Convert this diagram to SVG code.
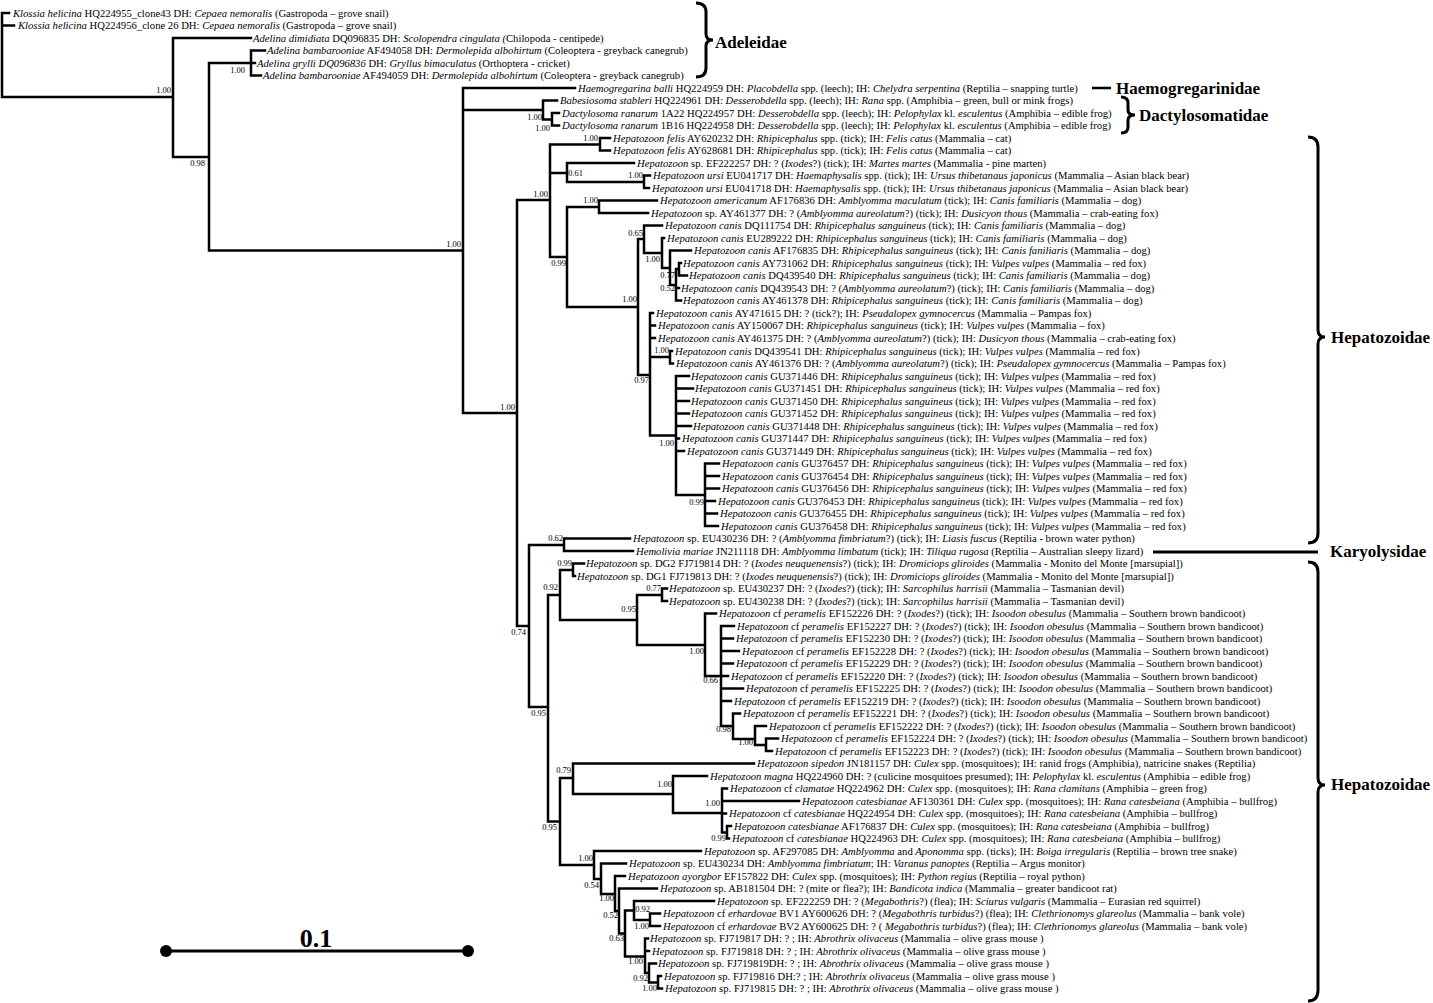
<svg xmlns="http://www.w3.org/2000/svg" width="1433" height="1003" viewBox="0 0 1433 1003">
<style>
.t{font-family:"Liberation Serif","Times New Roman",serif;font-size:10.65px;fill:#000}
.i{font-style:italic}
.s{font-family:"Liberation Serif","Times New Roman",serif;font-size:8.5px;text-anchor:end;fill:#000}
.f{font-family:"Liberation Serif","Times New Roman",serif;font-size:17px;font-weight:bold;fill:#000}
.br{fill:none;stroke:#000;stroke-width:3}
#connectors path{fill:none;stroke:#000;stroke-width:2.5;stroke-linecap:square}
</style>
<rect width="1433" height="1003" fill="#fff"/>
<g id="connectors">
<path d="M2,13V97M2,13H9M2,25.5H14M2,97H173
M173,38V157M173,38H251M173,157H209
M209,63V250.5M209,63H251M209,250.5H463
M251,50.5V75.5M251,50.5H265M251,63H255M251,75.5H261
M463,88V413M463,88H575M463,110H543M463,413H517
M543,100.5V119.5M543,100.5H557M543,119.5H552
M552,113V125.5M552,113H559M552,125.5H559
M517,200V626M517,200H550M517,626H529
M550,144.5V257M550,144.5H600M550,173H567M550,257H567
M600,138V150.5M600,138H610M600,150.5H610
M567,163V182M567,163H634M567,182H644
M644,175.5V188M644,175.5H650M644,188H649
M567,207V307M567,207H599M567,307H638
M599,200.5V213M599,200.5H657M599,213H648
M638,239V375M638,239H644M638,375H650
M644,225.5V253M644,225.5H662M644,253H662
M662,238V268M662,238H664M662,268H670
M670,250.5V285M670,250.5H691M670,285H676
M676,269V300.5M676,269H679M676,288H679M676,300.5H681
M679,263V275.5M679,263H681M679,275.5H687
M650,313V435.5M650,313H653M650,325.5H655M650,338H655M650,357H670M650,435.5H676
M670,351V363.5M670,351H672M670,363.5H673
M676,376V495M676,376H689M676,388.5H693M676,401H689M676,413.5H689M676,426H691M676,438.5H679M676,451H684M676,495H705
M705,463.5V526M705,463.5H719M705,476H719M705,488.5H719M705,501H715M705,513.5H717M705,526H718
M529,545V707M529,545H564M529,707H548
M564,538.5V551M564,538.5H630M564,551H633
M548,595V821.5M548,595H560M548,821.5H560
M560,570V620M560,570H573M560,620H637
M573,563.5V576M573,563.5H584M573,576H575
M637,595V645M637,595H662M637,645H705
M662,588.5V601M662,588.5H667M662,601H667
M705,613.5V676M705,613.5H716M705,676H721
M721,626V726M721,626H734M721,638.5H733M721,651H739M721,663.5H733M721,676H728M721,688.5H743M721,701H731M721,726H733
M733,713.5V739M733,713.5H740M733,739H755
M755,726V745M755,726H766M755,745H766
M766,738.5V751M766,738.5H778M766,751H772
M560,778V865M560,778H573M560,865H594
M573,763.5V794M573,763.5H754M573,794H673
M673,776V813M673,776H707M673,813H722
M722,788.5V832.5M722,788.5H727M722,801H799M722,813.5H726M722,832.5H727
M727,826V838.5M727,826H731M727,838.5H729
M594,851V879M594,851H701M594,879H601
M601,863.5V894M601,863.5H626M601,894H615
M615,876V911M615,876H625M615,911H619
M619,888.5V933.5M619,888.5H657M619,933.5H625
M625,910.5V956.5M625,910.5H634M625,956.5H645
M634,901V920M634,901H714M634,920H650
M650,913.5V926M650,913.5H660M650,926H660
M645,938.5V973M645,938.5H648M645,951H649M645,973H649
M649,963.5V982.5M649,963.5H656M649,982.5H658
M658,976V988.5M658,976H661M658,988.5H662"/>
</g>
<g id="support">
<text class="s" x="171" y="93">1.00</text>
<text class="s" x="205" y="166">0.98</text>
<text class="s" x="245" y="73">1.00</text>
<text class="s" x="461" y="247">1.00</text>
<text class="s" x="542" y="120">1.00</text>
<text class="s" x="550" y="131">1.00</text>
<text class="s" x="598" y="141">1.00</text>
<text class="s" x="583" y="176">0.61</text>
<text class="s" x="643" y="178">1.00</text>
<text class="s" x="548" y="197">1.00</text>
<text class="s" x="598" y="203">1.00</text>
<text class="s" x="566" y="266">0.99</text>
<text class="s" x="643" y="236">0.65</text>
<text class="s" x="660" y="262">1.00</text>
<text class="s" x="675" y="278">0.77</text>
<text class="s" x="675" y="291">0.52</text>
<text class="s" x="637" y="302">1.00</text>
<text class="s" x="669" y="353">1.00</text>
<text class="s" x="649" y="383">0.97</text>
<text class="s" x="674" y="446">1.00</text>
<text class="s" x="704" y="505">0.99</text>
<text class="s" x="515" y="410">1.00</text>
<text class="s" x="526" y="635">0.74</text>
<text class="s" x="563" y="541">0.62</text>
<text class="s" x="572" y="566">0.99</text>
<text class="s" x="558" y="590">0.92</text>
<text class="s" x="636" y="612">0.95</text>
<text class="s" x="661" y="591">0.77</text>
<text class="s" x="704" y="654">1.00</text>
<text class="s" x="718" y="683">0.66</text>
<text class="s" x="731" y="732">0.98</text>
<text class="s" x="753" y="745">1.00</text>
<text class="s" x="546" y="716">0.95</text>
<text class="s" x="571" y="773">0.79</text>
<text class="s" x="672" y="787">1.00</text>
<text class="s" x="720" y="806">1.00</text>
<text class="s" x="726" y="841">0.99</text>
<text class="s" x="557" y="830">0.95</text>
<text class="s" x="593" y="861">1.00</text>
<text class="s" x="599" y="888">0.54</text>
<text class="s" x="614" y="901">1.00</text>
<text class="s" x="618" y="918">0.52</text>
<text class="s" x="650" y="912">0.92</text>
<text class="s" x="649" y="929">1.00</text>
<text class="s" x="624" y="941">0.63</text>
<text class="s" x="643" y="964">1.00</text>
<text class="s" x="648" y="981">0.92</text>
<text class="s" x="657" y="991">1.00</text>
</g>
<g id="leaves">
<g id="n01"><text class="t" x="13" y="16.5"><tspan class="i">Klossia helicina</tspan> HQ224955_clone43 DH: <tspan class="i">Cepaea nemoralis</tspan> (Gastropoda – grove snail)</text></g>
<g id="n02"><text class="t" x="18" y="29"><tspan class="i">Klossia helicina</tspan> HQ224956_clone 26 DH: <tspan class="i">Cepaea nemoralis</tspan> (Gastropoda – grove snail)</text></g>
<g id="n03"><text class="t" x="253" y="41.5"><tspan class="i">Adelina dimidiata</tspan> DQ096835 DH: <tspan class="i">Scolopendra cingulata (</tspan>Chilopoda - centipede)</text></g>
<g id="n04"><text class="t" x="267" y="54"><tspan class="i">Adelina bambarooniae</tspan> AF494058 DH: <tspan class="i">Dermolepida albohirtum</tspan> (Coleoptera - greyback canegrub)</text></g>
<g id="n05"><text class="t" x="257" y="66.5"><tspan class="i">Adelina grylli DQ096836</tspan> DH: <tspan class="i">Gryllus bimaculatus</tspan> (Orthoptera - cricket)</text></g>
<g id="n06"><text class="t" x="263" y="79"><tspan class="i">Adelina bambarooniae</tspan> AF494059 DH: <tspan class="i">Dermolepida albohirtum</tspan> (Coleoptera - greyback canegrub)</text></g>
<g id="n07"><text class="t" x="578" y="91.5"><tspan class="i">Haemogregarina balli</tspan> HQ224959 DH: <tspan class="i">Placobdella</tspan> spp. (leech); IH: <tspan class="i">Chelydra serpentina</tspan> (Reptilia – snapping turtle)</text></g>
<g id="n08"><text class="t" x="560" y="104"><tspan class="i">Babesiosoma stableri</tspan> HQ224961 DH: <tspan class="i">Desserobdella</tspan> spp. (leech); IH: <tspan class="i">Rana</tspan> spp. (Amphibia – green, bull or mink frogs)</text></g>
<g id="n09"><text class="t" x="562" y="116.5"><tspan class="i">Dactylosoma ranarum</tspan> 1A22 HQ224957 DH: <tspan class="i">Desserobdella</tspan> spp. (leech); IH: <tspan class="i">Pelophylax</tspan> kl. <tspan class="i">esculentus</tspan> (Amphibia – edible frog)</text></g>
<g id="n10"><text class="t" x="562" y="129"><tspan class="i">Dactylosoma ranarum</tspan> 1B16 HQ224958 DH: <tspan class="i">Desserobdella</tspan> spp. (leech); IH: <tspan class="i">Pelophylax</tspan> kl. <tspan class="i">esculentus</tspan> (Amphibia – edible frog)</text></g>
<g id="n11"><text class="t" x="613" y="141.5"><tspan class="i">Hepatozoon felis</tspan> AY620232 DH: <tspan class="i">Rhipicephalus</tspan> spp. (tick); IH: <tspan class="i">Felis catus</tspan> (Mammalia – cat)</text></g>
<g id="n12"><text class="t" x="613" y="154"><tspan class="i">Hepatozoon felis</tspan> AY628681 DH: <tspan class="i">Rhipicephalus</tspan> spp. (tick); IH: <tspan class="i">Felis catus</tspan> (Mammalia – cat)</text></g>
<g id="n13"><text class="t" x="637" y="166.5"><tspan class="i">Hepatozoon</tspan> sp. EF222257 DH: ? (<tspan class="i">Ixodes</tspan>?) (tick); IH: <tspan class="i">Martes martes</tspan> (Mammalia - pine marten)</text></g>
<g id="n14"><text class="t" x="653" y="179"><tspan class="i">Hepatozoon ursi</tspan> EU041717 DH: <tspan class="i">Haemaphysalis</tspan> spp. (tick); IH: <tspan class="i">Ursus thibetanaus japonicus</tspan> (Mammalia – Asian black bear)</text></g>
<g id="n15"><text class="t" x="652" y="191.5"><tspan class="i">Hepatozoon ursi</tspan> EU041718 DH: <tspan class="i">Haemaphysalis</tspan> spp. (tick); IH: <tspan class="i">Ursus thibetanaus japonicus</tspan> (Mammalia – Asian black bear)</text></g>
<g id="n16"><text class="t" x="660" y="204"><tspan class="i">Hepatozoon americanum</tspan> AF176836 DH: <tspan class="i">Amblyomma maculatum</tspan> (tick); IH: <tspan class="i">Canis familiaris</tspan> (Mammalia – dog)</text></g>
<g id="n17"><text class="t" x="651" y="216.5"><tspan class="i">Hepatozoon</tspan> sp. AY461377 DH: ? (<tspan class="i">Amblyomma aureolatum</tspan>?) (tick); IH: <tspan class="i">Dusicyon thous</tspan> (Mammalia – crab-eating fox)</text></g>
<g id="n18"><text class="t" x="665" y="229"><tspan class="i">Hepatozoon canis</tspan> DQ111754 DH: <tspan class="i">Rhipicephalus sanguineus</tspan> (tick); IH: <tspan class="i">Canis familiaris</tspan> (Mammalia – dog)</text></g>
<g id="n19"><text class="t" x="667" y="241.5"><tspan class="i">Hepatozoon canis</tspan> EU289222 DH: <tspan class="i">Rhipicephalus sanguineus</tspan> (tick); IH: <tspan class="i">Canis familiaris</tspan> (Mammalia – dog)</text></g>
<g id="n20"><text class="t" x="694" y="254"><tspan class="i">Hepatozoon canis</tspan> AF176835 DH: <tspan class="i">Rhipicephalus sanguineus</tspan> (tick); IH: <tspan class="i">Canis faniliaris</tspan> (Mammalia – dog)</text></g>
<g id="n21"><text class="t" x="683" y="266.5"><tspan class="i">Hepatozoon canis</tspan> AY731062 DH: <tspan class="i">Rhipicephalus sanguineus</tspan> (tick); IH: <tspan class="i">Vulpes vulpes</tspan> (Mammalia – red fox)</text></g>
<g id="n22"><text class="t" x="689" y="279"><tspan class="i">Hepatozoon canis</tspan> DQ439540 DH: <tspan class="i">Rhipicephalus sanguineus</tspan> (tick); IH: <tspan class="i">Canis familiaris</tspan> (Mammalia – dog)</text></g>
<g id="n23"><text class="t" x="681" y="291.5"><tspan class="i">Hepatozoon canis</tspan> DQ439543 DH: ? (<tspan class="i">Amblyomma aureolatum</tspan>?) (tick); IH: <tspan class="i">Canis familiaris</tspan> (Mammalia – dog)</text></g>
<g id="n24"><text class="t" x="683" y="304"><tspan class="i">Hepatozoon canis</tspan> AY461378 DH: <tspan class="i">Rhipicephalus sanguineus</tspan> (tick); IH: <tspan class="i">Canis familiaris</tspan> (Mammalia – dog)</text></g>
<g id="n25"><text class="t" x="656" y="316.5"><tspan class="i">Hepatozoon canis</tspan> AY471615 DH: ? (tick?); IH: <tspan class="i">Pseudalopex gymnocercus</tspan> (Mammalia – Pampas fox)</text></g>
<g id="n26"><text class="t" x="658" y="329"><tspan class="i">Hepatozoon canis</tspan> AY150067 DH: <tspan class="i">Rhipicephalus sanguineus</tspan> (tick); IH: <tspan class="i">Vulpes vulpes</tspan> (Mammalia – fox)</text></g>
<g id="n27"><text class="t" x="658" y="341.5"><tspan class="i">Hepatozoon canis</tspan> AY461375 DH: ? (<tspan class="i">Amblyomma aureolatum</tspan>?) (tick); IH: <tspan class="i">Dusicyon thous</tspan> (Mammalia – crab-eating fox)</text></g>
<g id="n28"><text class="t" x="675" y="354.5"><tspan class="i">Hepatozoon canis</tspan> DQ439541 DH: <tspan class="i">Rhipicephalus sanguineus</tspan> (tick); IH: <tspan class="i">Vulpes vulpes</tspan> (Mammalia – red fox)</text></g>
<g id="n29"><text class="t" x="676" y="367"><tspan class="i">Hepatozoon canis</tspan> AY461376 DH: ? (<tspan class="i">Amblyomma aureolatum</tspan>?) (tick); IH: <tspan class="i">Pseudalopex gymnocercus</tspan> (Mammalia – Pampas fox)</text></g>
<g id="n30"><text class="t" x="691" y="379.5"><tspan class="i">Hepatozoon canis</tspan> GU371446 DH: <tspan class="i">Rhipicephalus sanguineus</tspan> (tick); IH: <tspan class="i">Vulpes vulpes</tspan> (Mammalia – red fox)</text></g>
<g id="n31"><text class="t" x="695" y="392"><tspan class="i">Hepatozoon canis</tspan> GU371451 DH: <tspan class="i">Rhipicephalus sanguineus</tspan> (tick); IH: <tspan class="i">Vulpes vulpes</tspan> (Mammalia – red fox)</text></g>
<g id="n32"><text class="t" x="691" y="404.5"><tspan class="i">Hepatozoon canis</tspan> GU371450 DH: <tspan class="i">Rhipicephalus sanguineus</tspan> (tick); IH: <tspan class="i">Vulpes vulpes</tspan> (Mammalia – red fox)</text></g>
<g id="n33"><text class="t" x="691" y="417"><tspan class="i">Hepatozoon canis</tspan> GU371452 DH: <tspan class="i">Rhipicephalus sanguineus</tspan> (tick); IH: <tspan class="i">Vulpes vulpes</tspan> (Mammalia – red fox)</text></g>
<g id="n34"><text class="t" x="693" y="429.5"><tspan class="i">Hepatozoon canis</tspan> GU371448 DH: <tspan class="i">Rhipicephalus sanguineus</tspan> (tick); IH: <tspan class="i">Vulpes vulpes</tspan> (Mammalia – red fox)</text></g>
<g id="n35"><text class="t" x="682" y="442"><tspan class="i">Hepatozoon canis</tspan> GU371447 DH: <tspan class="i">Rhipicephalus sanguineus</tspan> (tick); IH: <tspan class="i">Vulpes vulpes</tspan> (Mammalia – red fox)</text></g>
<g id="n36"><text class="t" x="687" y="454.5"><tspan class="i">Hepatozoon canis</tspan> GU371449 DH: <tspan class="i">Rhipicephalus sanguineus</tspan> (tick); IH: <tspan class="i">Vulpes vulpes</tspan> (Mammalia – red fox)</text></g>
<g id="n37"><text class="t" x="722" y="467"><tspan class="i">Hepatozoon canis</tspan> GU376457 DH: <tspan class="i">Rhipicephalus sanguineus</tspan> (tick); IH: <tspan class="i">Vulpes vulpes</tspan> (Mammalia – red fox)</text></g>
<g id="n38"><text class="t" x="722" y="479.5"><tspan class="i">Hepatozoon canis</tspan> GU376454 DH: <tspan class="i">Rhipicephalus sanguineus</tspan> (tick); IH: <tspan class="i">Vulpes vulpes</tspan> (Mammalia – red fox)</text></g>
<g id="n39"><text class="t" x="722" y="492"><tspan class="i">Hepatozoon canis</tspan> GU376456 DH: <tspan class="i">Rhipicephalus sanguineus</tspan> (tick); IH: <tspan class="i">Vulpes vulpes</tspan> (Mammalia – red fox)</text></g>
<g id="n40"><text class="t" x="718" y="504.5"><tspan class="i">Hepatozoon canis</tspan> GU376453 DH: <tspan class="i">Rhipicephalus sanguineus</tspan> (tick); IH: <tspan class="i">Vulpes vulpes</tspan> (Mammalia – red fox)</text></g>
<g id="n41"><text class="t" x="720" y="517"><tspan class="i">Hepatozoon canis</tspan> GU376455 DH: <tspan class="i">Rhipicephalus sanguineus</tspan> (tick); IH: <tspan class="i">Vulpes vulpes</tspan> (Mammalia – red fox)</text></g>
<g id="n42"><text class="t" x="721" y="529.5"><tspan class="i">Hepatozoon canis</tspan> GU376458 DH: <tspan class="i">Rhipicephalus sanguineus</tspan> (tick); IH: <tspan class="i">Vulpes vulpes</tspan> (Mammalia – red fox)</text></g>
<g id="n43"><text class="t" x="633" y="542"><tspan class="i">Hepatozoon</tspan> sp. EU430236 DH: ? (<tspan class="i">Amblyomma fimbriatum</tspan>?) (tick); IH: <tspan class="i">Liasis fuscus</tspan> (Reptilia - brown water python)</text></g>
<g id="n44"><text class="t" x="636" y="554.5"><tspan class="i">Hemolivia mariae</tspan> JN211118 DH: <tspan class="i">Amblyomma limbatum</tspan> (tick); IH: <tspan class="i">Tiliqua rugosa</tspan> (Reptilia – Australian sleepy lizard)</text></g>
<g id="n45"><text class="t" x="586" y="567"><tspan class="i">Hepatozoon</tspan> sp. DG2 FJ719814 DH: ? (<tspan class="i">Ixodes neuquenensis</tspan>?) (tick); IH: <tspan class="i">Dromiciops gliroides</tspan> (Mammalia - Monito del Monte [marsupial])</text></g>
<g id="n46"><text class="t" x="577" y="579.5"><tspan class="i">Hepatozoon</tspan> sp. DG1 FJ719813 DH: ? (<tspan class="i">Ixodes neuquenensis</tspan>?) (tick); IH: <tspan class="i">Dromiciops gliroides</tspan> (Mammalia - Monito del Monte [marsupial])</text></g>
<g id="n47"><text class="t" x="669" y="592"><tspan class="i">Hepatozoon</tspan> sp. EU430237 DH: ? (<tspan class="i">Ixodes</tspan>?) (tick); IH: <tspan class="i">Sarcophilus harrisii</tspan> (Mammalia – Tasmanian devil)</text></g>
<g id="n48"><text class="t" x="669" y="604.5"><tspan class="i">Hepatozoon</tspan> sp. EU430238 DH: ? (<tspan class="i">Ixodes</tspan>?) (tick); IH: <tspan class="i">Sarcophilus harrisii</tspan> (Mammalia – Tasmanian devil)</text></g>
<g id="n49"><text class="t" x="719" y="617"><tspan class="i">Hepatozoon</tspan> cf <tspan class="i">peramelis</tspan> EF152226 DH: ? (<tspan class="i">Ixodes</tspan>?) (tick); IH: <tspan class="i">Isoodon obesulus</tspan> (Mammalia – Southern brown bandicoot)</text></g>
<g id="n50"><text class="t" x="737" y="629.5"><tspan class="i">Hepatozoon</tspan> cf <tspan class="i">peramelis</tspan> EF152227 DH: ? (<tspan class="i">Ixodes</tspan>?) (tick); IH: <tspan class="i">Isoodon obesulus</tspan> (Mammalia – Southern brown bandicoot)</text></g>
<g id="n51"><text class="t" x="736" y="642"><tspan class="i">Hepatozoon</tspan> cf <tspan class="i">peramelis</tspan> EF152230 DH: ? (<tspan class="i">Ixodes</tspan>?) (tick); IH: <tspan class="i">Isoodon obesulus</tspan> (Mammalia – Southern brown bandicoot)</text></g>
<g id="n52"><text class="t" x="742" y="654.5"><tspan class="i">Hepatozoon</tspan> cf <tspan class="i">peramelis</tspan> EF152228 DH: ? (<tspan class="i">Ixodes</tspan>?) (tick); IH: <tspan class="i">Isoodon obesulus</tspan> (Mammalia – Southern brown bandicoot)</text></g>
<g id="n53"><text class="t" x="736" y="667"><tspan class="i">Hepatozoon</tspan> cf <tspan class="i">peramelis</tspan> EF152229 DH: ? (<tspan class="i">Ixodes</tspan>?) (tick); IH: <tspan class="i">Isoodon obesulus</tspan> (Mammalia – Southern brown bandicoot)</text></g>
<g id="n54"><text class="t" x="731" y="679.5"><tspan class="i">Hepatozoon</tspan> cf <tspan class="i">peramelis</tspan> EF152220 DH: ? (<tspan class="i">Ixodes</tspan>?) (tick); IH: <tspan class="i">Isoodon obesulus</tspan> (Mammalia – Southern brown bandicoot)</text></g>
<g id="n55"><text class="t" x="746" y="692"><tspan class="i">Hepatozoon</tspan> cf <tspan class="i">peramelis</tspan> EF152225 DH: ? (<tspan class="i">Ixodes</tspan>?) (tick); IH: <tspan class="i">Isoodon obesulus</tspan> (Mammalia – Southern brown bandicoot)</text></g>
<g id="n56"><text class="t" x="734" y="704.5"><tspan class="i">Hepatozoon</tspan> cf <tspan class="i">peramelis</tspan> EF152219 DH: ? (<tspan class="i">Ixodes</tspan>?) (tick); IH: <tspan class="i">Isoodon obesulus</tspan> (Mammalia – Southern brown bandicoot)</text></g>
<g id="n57"><text class="t" x="743" y="717"><tspan class="i">Hepatozoon</tspan> cf <tspan class="i">peramelis</tspan> EF152221 DH: ? (<tspan class="i">Ixodes</tspan>?) (tick); IH: <tspan class="i">Isoodon obesulus</tspan> (Mammalia – Southern brown bandicoot)</text></g>
<g id="n58"><text class="t" x="769" y="729.5"><tspan class="i">Hepatozoon</tspan> cf <tspan class="i">peramelis</tspan> EF152222 DH: ? (<tspan class="i">Ixodes</tspan>?) (tick); IH: <tspan class="i">Isoodon obesulus</tspan> (Mammalia – Southern brown bandicoot)</text></g>
<g id="n59"><text class="t" x="781" y="742"><tspan class="i">Hepatozoon</tspan> cf <tspan class="i">peramelis</tspan> EF152224 DH: ? (<tspan class="i">Ixodes</tspan>?) (tick); IH: <tspan class="i">Isoodon obesulus</tspan> (Mammalia – Southern brown bandicoot)</text></g>
<g id="n60"><text class="t" x="775" y="754.5"><tspan class="i">Hepatozoon</tspan> cf <tspan class="i">peramelis</tspan> EF152223 DH: ? (<tspan class="i">Ixodes</tspan>?) (tick); IH: <tspan class="i">Isoodon obesulus</tspan> (Mammalia – Southern brown bandicoot)</text></g>
<g id="n61"><text class="t" x="757" y="767"><tspan class="i">Hepatozoon sipedon</tspan> JN181157 DH: <tspan class="i">Culex</tspan> spp. (mosquitoes); IH: ranid frogs (Amphibia), natricine snakes (Reptilia)</text></g>
<g id="n62"><text class="t" x="710" y="779.5"><tspan class="i">Hepatozoon magna</tspan> HQ224960 DH: ? (culicine mosquitoes presumed); IH: <tspan class="i">Pelophylax</tspan> kl. <tspan class="i">esculentus</tspan> (Amphibia – edible frog)</text></g>
<g id="n63"><text class="t" x="730" y="792"><tspan class="i">Hepatozoon</tspan> cf <tspan class="i">clamatae</tspan> HQ224962 DH: <tspan class="i">Culex</tspan> spp. (mosquitoes); IH: <tspan class="i">Rana clamitans</tspan> (Amphibia – green frog)</text></g>
<g id="n64"><text class="t" x="802" y="804.5"><tspan class="i">Hepatozoon catesbianae</tspan> AF130361 DH: <tspan class="i">Culex</tspan> spp. (mosquitoes); IH: <tspan class="i">Rana catesbeiana</tspan> (Amphibia – bullfrog)</text></g>
<g id="n65"><text class="t" x="729" y="817"><tspan class="i">Hepatozoon</tspan> cf <tspan class="i">catesbianae</tspan> HQ224954 DH: <tspan class="i">Culex</tspan> spp. (mosquitoes); IH: <tspan class="i">Rana catesbeiana</tspan> (Amphibia – bullfrog)</text></g>
<g id="n66"><text class="t" x="734" y="829.5"><tspan class="i">Hepatozoon catesbianae</tspan> AF176837 DH: <tspan class="i">Culex</tspan> spp. (mosquitoes); IH: <tspan class="i">Rana catesbeiana</tspan> (Amphibia – bullfrog)</text></g>
<g id="n67"><text class="t" x="732" y="842"><tspan class="i">Hepatozoon</tspan> cf <tspan class="i">catesbianae</tspan> HQ224963 DH: <tspan class="i">Culex</tspan> spp. (mosquitoes); IH: <tspan class="i">Rana catesbeiana</tspan> (Amphibia – bullfrog)</text></g>
<g id="n68"><text class="t" x="704" y="854.5"><tspan class="i">Hepatozoon</tspan> sp. AF297085 DH: <tspan class="i">Amblyomma</tspan> and <tspan class="i">Aponomma</tspan> spp. (ticks); IH: <tspan class="i">Boiga irregularis</tspan> (Reptilia – brown tree snake)</text></g>
<g id="n69"><text class="t" x="629" y="867"><tspan class="i">Hepatozoon</tspan> sp. EU430234 DH: <tspan class="i">Amblyomma fimbriatum</tspan>; IH: <tspan class="i">Varanus panoptes</tspan> (Reptilia – Argus monitor)</text></g>
<g id="n70"><text class="t" x="628" y="879.5"><tspan class="i">Hepatozoon ayorgbor</tspan> EF157822 DH: <tspan class="i">Culex</tspan> spp. (mosquitoes); IH: <tspan class="i">Python regius</tspan> (Reptilia – royal python)</text></g>
<g id="n71"><text class="t" x="660" y="892"><tspan class="i">Hepatozoon</tspan> sp. AB181504 DH: ? (mite or flea?); IH: <tspan class="i">Bandicota indica</tspan> (Mammalia – greater bandicoot rat)</text></g>
<g id="n72"><text class="t" x="717" y="904.5"><tspan class="i">Hepatozoon</tspan> sp. EF222259 DH: ? (<tspan class="i">Megabothris</tspan>?) (flea); IH: <tspan class="i">Sciurus vulgaris</tspan> (Mammalia – Eurasian red squirrel)</text></g>
<g id="n73"><text class="t" x="663" y="917"><tspan class="i">Hepatozoon</tspan> cf <tspan class="i">erhardovae</tspan> BV1 AY600626 DH: ? (<tspan class="i">Megabothris turbidus</tspan>?) (flea); IH: <tspan class="i">Clethrionomys glareolus</tspan> (Mammalia – bank vole)</text></g>
<g id="n74"><text class="t" x="663" y="929.5"><tspan class="i">Hepatozoon</tspan> cf <tspan class="i">erhardovae</tspan> BV2 AY600625 DH: ? ( <tspan class="i">Megabothris turbidus</tspan>?) (flea); IH: <tspan class="i">Clethrionomys glareolus</tspan> (Mammalia – bank vole)</text></g>
<g id="n75"><text class="t" x="650" y="942"><tspan class="i">Hepatozoon</tspan> sp. FJ719817 DH: ? ; IH: <tspan class="i">Abrothrix olivaceus</tspan> (Mammalia – olive grass mouse )</text></g>
<g id="n76"><text class="t" x="652" y="954.5"><tspan class="i">Hepatozoon</tspan> sp. FJ719818 DH: ? ; IH: <tspan class="i">Abrothrix olivaceus</tspan> (Mammalia – olive grass mouse )</text></g>
<g id="n77"><text class="t" x="658" y="967"><tspan class="i">Hepatozoon</tspan> sp. FJ719819DH: ? ; IH: <tspan class="i">Abrothrix olivaceus</tspan> (Mammalia – olive grass mouse )</text></g>
<g id="n78"><text class="t" x="664" y="979.5"><tspan class="i">Hepatozoon</tspan> sp. FJ719816 DH:? ; IH: <tspan class="i">Abrothrix olivaceus</tspan> (Mammalia – olive grass mouse )</text></g>
<g id="n79"><text class="t" x="665" y="992"><tspan class="i">Hepatozoon</tspan> sp. FJ719815 DH: ? ; IH: <tspan class="i">Abrothrix olivaceus</tspan> (Mammalia – olive grass mouse )</text></g>
</g>
<g id="families">
<g id="fam-adeleidae"><path class="br" d="M696,3Q706,3 706,12V34Q706,40 713,40Q706,40 706,46V68Q706,77 696,77"/><text class="f" x="715" y="48">Adeleidae</text></g>
<g id="fam-haemogregarinidae"><path d="M1092,88H1111" stroke="#000" stroke-width="2.5"/><text class="f" x="1116" y="94">Haemogregarinidae</text></g>
<g id="fam-dactylosomatidae"><path class="br" d="M1121,97Q1128,97 1128,103V110Q1128,115 1135,115Q1128,115 1128,120V127Q1128,133 1121,133"/><text class="f" x="1139" y="121">Dactylosomatidae</text></g>
<g id="fam-hepatozoidae1"><path class="br" d="M1308,137Q1318,137 1318,147V330Q1318,337 1325,337Q1318,337 1318,344V533Q1318,543 1308,543"/><text class="f" x="1331" y="343">Hepatozoidae</text></g>
<g id="fam-karyolysidae"><path d="M1153,552H1318" stroke="#000" stroke-width="3"/><text class="f" x="1330" y="557">Karyolysidae</text></g>
<g id="fam-hepatozoidae2"><path class="br" d="M1308,562Q1318,562 1318,572V778Q1318,785 1325,785Q1318,785 1318,792V990Q1318,1001 1308,1001"/><text class="f" x="1331" y="790">Hepatozoidae</text></g>
</g>
<g id="scalebar">
<path d="M166,951H468" stroke="#000" stroke-width="3"/>
<circle cx="166" cy="951" r="6"/>
<circle cx="468" cy="951" r="6"/>
<text x="316" y="947" text-anchor="middle" style="font-family:'Liberation Serif','Times New Roman',serif;font-size:26px;font-weight:bold">0.1</text>
</g>
</svg>
